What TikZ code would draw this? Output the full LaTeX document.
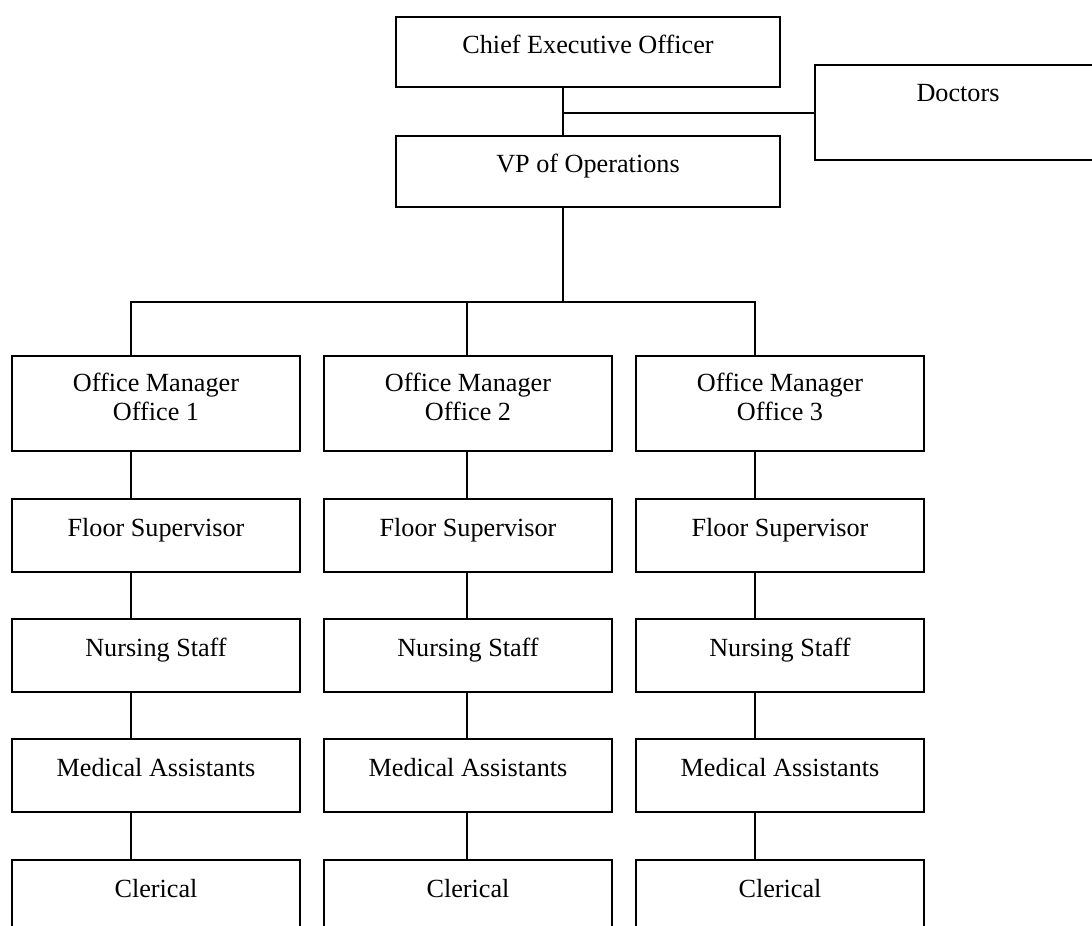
\documentclass[tikz,border=0pt]{standalone}
\usepackage{fontspec}
\setmainfont{Liberation Serif}
\begin{document}
\begin{tikzpicture}[x=0.5pt,y=-0.5pt,
  box/.style={draw, line width=1pt, inner sep=0pt, anchor=north west, minimum width=144pt},
  lbl/.style={inner sep=0pt, anchor=base, font=\fontsize{13.1pt}{14.5pt}\selectfont},
  conn/.style={line width=1pt}]
\useasboundingbox (0,0) rectangle (1092,926);
\clip (0,0) rectangle (1092,926);

% top
\node[box, minimum width=192pt, minimum height=35pt] (ceo) at (395,16) {};
\path (ceo.north) ++(0,37) node[lbl] (ceot) {Chief Executive Officer};
\node[box, minimum width=192pt, minimum height=35.5pt] (vp) at (395,135) {};
\path (vp.north) ++(0,37) node[lbl] (vpt) {VP of Operations};
\node[box, minimum width=143pt, minimum height=47.5pt] (doc) at (814,64) {};
\path (doc.north) ++(0,37) node[lbl] (doct) {Doctors};

\coordinate (spine) at (563,0);
\coordinate (bar) at (563,302);
\draw[conn] (ceo.south -| spine) -- (vp.north -| spine);
\draw[conn] (spine |- doc.west) -- (doc.west);
\draw[conn] (vp.south -| spine) -- (bar);

% columns
\foreach \i/\lx/\cx in {1/11/131, 2/323/467, 3/635/755} {
  \coordinate (c\i) at (\cx,0);
  \node[box, minimum height=47.5pt] (om\i) at (\lx,355) {};
  \path (om\i.north) ++(0,36) node[lbl] (omt\i) {\begin{tabular}[t]{@{}c@{}}Office Manager\\Office \i\end{tabular}};
  \foreach \r/\ty/\t in {fs/498/Floor Supervisor, ns/618/Nursing Staff, ma/738/Medical Assistants, cl/859/Clerical} {
    \node[box, minimum height=36.5pt] (\r\i) at (\lx,\ty) {};
    \path (\r\i.north) ++(0,38) node[lbl] (\r t\i) {\t};
  }
  \foreach \a/\b in {om/fs, fs/ns, ns/ma, ma/cl} {
    \draw[conn] (\a\i.south -| c\i) -- (\b\i.north -| c\i);
  }
}

\draw[conn] (om1.north -| c1) -- (c1 |- bar) -- (c3 |- bar) -- (om3.north -| c3);
\draw[conn] (om2.north -| c2) -- (c2 |- bar);
\end{tikzpicture}
\end{document}
